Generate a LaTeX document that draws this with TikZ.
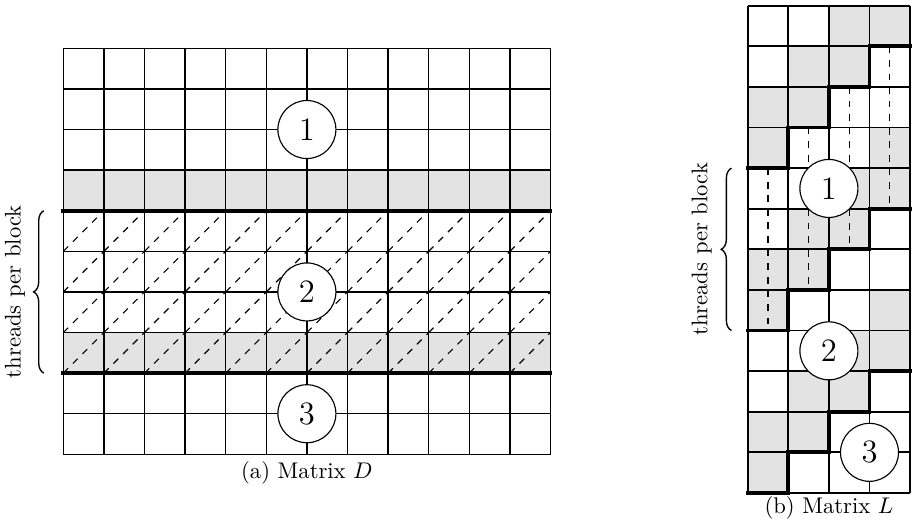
\documentclass[tikz,border=0pt]{standalone}
\usetikzlibrary{decorations.pathreplacing}
\definecolor{cellgray}{HTML}{E3E3E3}

\begin{document}
\begin{tikzpicture}[x=0.63cm, y=-0.63cm,
  thin line/.style={line width=0.6pt},
  cut/.style={line width=1.7pt, line cap=rect},
  hatch/.style={dashed, line width=0.5pt},
  blk/.style={circle, draw, line width=0.5pt, fill=white, minimum size=0.9cm, inner sep=0pt, font=\Large},
  brc/.style={decorate, decoration={brace, amplitude=4.5pt}, line width=0.6pt},
  lbl/.style={rotate=90}
]
  \useasboundingbox (-1.559,-1.19) rectangle (20.904,11.741);

  % matrix D
  \fill[cellgray] (0,3) rectangle (12,4);
  \fill[cellgray] (0,7) rectangle (12,8);
  \foreach \i in {0,...,11}
    \foreach \j in {4,...,7}
      \draw[hatch] (\i,\j+1) -- (\i+1,\j);
  \foreach \i in {0,...,12} \draw[thin line] (\i,0) -- (\i,10);
  \foreach \j in {0,...,10} \draw[thin line] (0,\j) -- (12,\j);
  \draw[cut] (0,4) -- (12,4);
  \draw[cut] (0,8) -- (12,8);
  \node[blk] (d1) at (6,2) {1};
  \node[blk] (d2) at (6,6) {2};
  \node[blk] (d3) at (6,9) {3};
  \node (capD) at (6,10.46) {(a) Matrix $D$};
  \draw[brc] (-0.48,8) -- (-0.48,4);
  \node[lbl] (tpbD) at (-1.19,6) {threads per block};

  % matrix L
  \begin{scope}[shift={(16.857,-1.049)}, thin line/.style={line width=0.8pt}]
    \foreach \c/\r in {2/0,3/0,1/1,2/1,0/2,1/2,0/3,3/3,2/4,3/4,1/5,2/5,
                       0/6,1/6,0/7,3/7,2/8,3/8,1/9,2/9,0/10,1/10,0/11}
      \fill[cellgray] (\c,\r) rectangle ++(1,1);
    \foreach \c in {0,...,3}
      \draw[hatch] (\c+0.5,4-\c) -- (\c+0.5,8-\c);
    \foreach \i in {0,...,4} \draw[thin line] (\i,0) -- (\i,12);
    \foreach \j in {0,...,12} \draw[thin line] (0,\j) -- (4,\j);
    \foreach \b in {0,4,8}
      \draw[cut, line join=miter] (4,\b+1) -| (3,\b+2) -| (2,\b+3) -| (1,\b+4) -- (0,\b+4);
    \node[blk] (l1) at (2,4.5) {1};
    \node[blk] (l2) at (2,8.5) {2};
    \node[blk] (l3) at (3,11) {3};
    \node (capL) at (2,12.36) {(b) Matrix $L$};
    \draw[brc] (-0.4,8) -- (-0.4,4);
    \node[lbl] (tpbL) at (-1.13,6) {threads per block};
  \end{scope}
\end{tikzpicture}
\end{document}
